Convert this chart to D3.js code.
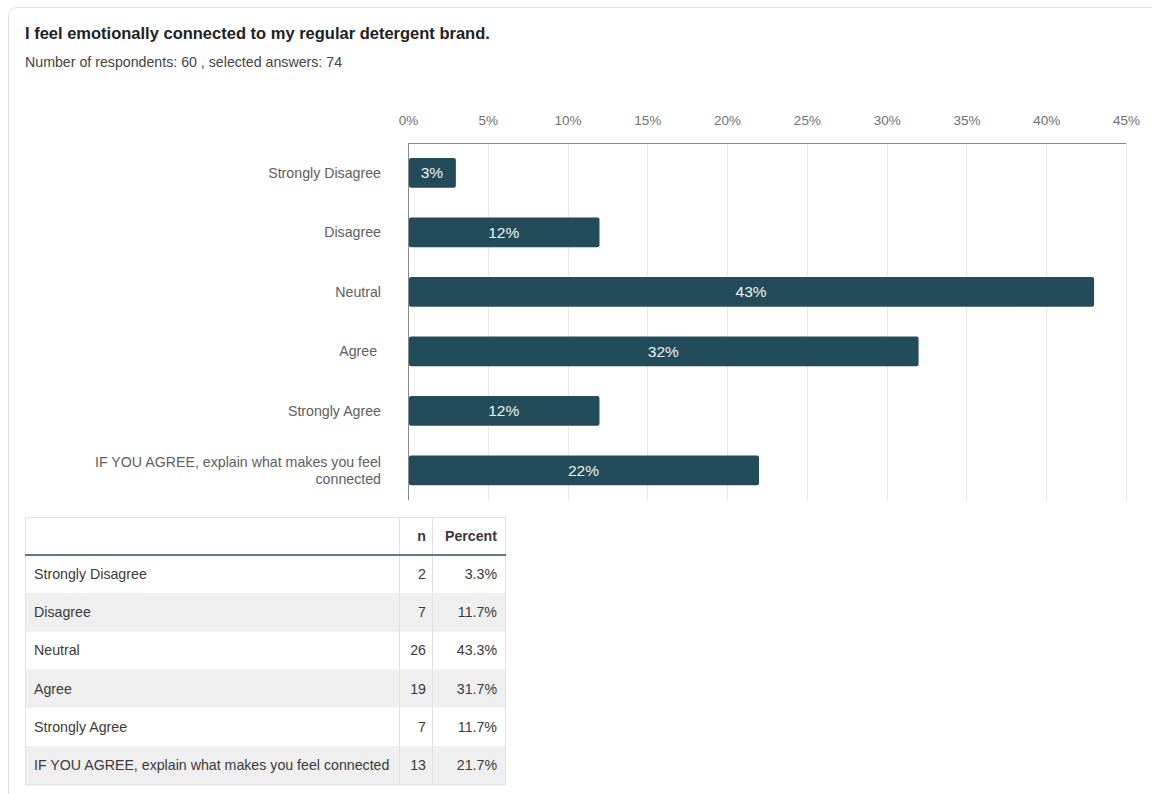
<!DOCTYPE html>
<html>
<meta charset="utf-8">
<style>
body { margin: 0; background: #fff; font-family: "Liberation Sans", Arial, sans-serif; }
.grid line { stroke: #e6e6e6; stroke-width: 1; shape-rendering: crispEdges; }
.grid path { display: none; }
.xaxis path, .xaxis line { display: none; }
.xaxis text { fill: #707070; font-size: 13.5px; font-family: "Liberation Sans", Arial, sans-serif; }
</style>
<body>
<script src="https://d3js.org/d3.v7.min.js"></script>
<script>
// data
var categories = ["Strongly Disagree", "Disagree", "Neutral", "Agree ", "Strongly Agree",
	"IF YOU AGREE, explain what makes you feel connected"];
var barPercent = [3, 12, 43, 32, 12, 22];
var counts = [2, 7, 26, 19, 7, 13];
var tablePercent = ["3.3%", "11.7%", "43.3%", "31.7%", "11.7%", "21.7%"];
var xTicks = [0, 5, 10, 15, 20, 25, 30, 35, 40, 45];

var W = 1152, H = 794;
var svg = d3.select("body").append("svg")
	.attr("width", W)
	.attr("height", H);

// card
svg.append("rect")
	.attr("x", 8.5).attr("y", 7.5)
	.attr("width", W + 20).attr("height", H + 20)
	.attr("rx", 8)
	.attr("fill", "#fff")
	.attr("stroke", "#e2e2e2");

svg.append("text")
	.attr("x", 25).attr("y", 39)
	.attr("font-size", "16.5px")
	.attr("font-weight", "bold")
	.attr("fill", "#222")
	.text("I feel emotionally connected to my regular detergent brand.");

svg.append("text")
	.attr("x", 25).attr("y", 67)
	.attr("font-size", "14.2px")
	.attr("fill", "#444")
	.text("Number of respondents: 60 , selected answers: 74");

// chart
var plotLeft = 408, plotRight = 1126, plotTop = 143, plotBottom = 500;
var x = d3.scaleLinear().domain([0, 45]).range([plotLeft, plotRight]);
var y = d3.scaleBand().domain(categories).range([plotTop, plotBottom]).paddingInner(0.5).paddingOuter(0.25);

svg.append("g")
	.attr("class", "grid")
	.attr("transform", "translate(0," + plotBottom + ")")
	.call(d3.axisBottom(x).tickValues(xTicks.slice(1)).tickSize(-(plotBottom - plotTop)).tickFormat(""));

svg.append("g")
	.attr("class", "xaxis")
	.attr("transform", "translate(0," + (plotTop - 15) + ")")
	.call(d3.axisTop(x).tickValues(xTicks).tickSize(0).tickFormat(function(d) { return d + "%"; }));

svg.append("line")
	.attr("x1", plotLeft).attr("x2", plotRight)
	.attr("y1", plotTop + 0.5).attr("y2", plotTop + 0.5)
	.attr("stroke", "#888");
svg.append("line")
	.attr("x1", plotLeft + 0.5).attr("x2", plotLeft + 0.5)
	.attr("y1", plotTop).attr("y2", plotBottom)
	.attr("stroke", "#888");

svg.selectAll(".bar")
	.data(barPercent)
	.enter().append("rect")
	.attr("class", "bar")
	.attr("x", plotLeft + 1)
	.attr("y", function(d, i) { return y(categories[i]); })
	.attr("width", function(d) { return x(d) - plotLeft - 1; })
	.attr("height", y.bandwidth())
	.attr("rx", 2)
	.attr("fill", "#234c5a");

svg.selectAll(".barlabel")
	.data(barPercent)
	.enter().append("text")
	.attr("class", "barlabel")
	.attr("x", function(d) { return (plotLeft + x(d)) / 2; })
	.attr("y", function(d, i) { return y(categories[i]) + y.bandwidth() / 2; })
	.attr("dy", "0.35em")
	.attr("text-anchor", "middle")
	.attr("font-size", "15.5px")
	.attr("fill", "#f2f2f2")
	.text(function(d) { return d + "%"; });

// category labels, long one wrapped in two lines
svg.selectAll(".ylabel")
	.data(categories)
	.enter().append("text")
	.attr("class", "ylabel")
	.attr("text-anchor", "end")
	.attr("font-size", "14.2px")
	.attr("fill", "#606060")
	.attr("xml:space", "preserve")
	.each(function(d) {
		var t = d3.select(this);
		var cy = y(d) + y.bandwidth() / 2;
		var lines = d.length > 40 ? ["IF YOU AGREE, explain what makes you feel", "connected"] : [d];
		lines.forEach(function(l, k) {
			t.append("tspan")
				.attr("x", 381)
				.attr("y", cy + (k - (lines.length - 1) / 2) * 17)
				.attr("dy", "0.35em")
				.text(l);
		});
	});

// table
var tx = 25, colN = 399, colP = 432, tRight = 506;
var headTop = 517, headBottom = 555, rowH = 38.2;
var tbl = svg.append("g").attr("font-size", "14.2px").attr("fill", "#3a3a3a");

categories.forEach(function(c, i) {
	var ry = headBottom + i * rowH;
	tbl.append("rect")
		.attr("x", tx).attr("y", ry)
		.attr("width", tRight - tx).attr("height", rowH)
		.attr("fill", i % 2 ? "#efefef" : "#fff");
	tbl.append("line")
		.attr("x1", tx).attr("x2", tRight)
		.attr("y1", Math.round(ry + rowH) + 0.5).attr("y2", Math.round(ry + rowH) + 0.5)
		.attr("stroke", "#e2e2e2");
	tbl.append("text").attr("x", tx + 9).attr("y", ry + rowH / 2).attr("dy", "0.35em")
		.text(c.trim());
	tbl.append("text").attr("x", colP - 6).attr("y", ry + rowH / 2).attr("dy", "0.35em")
		.attr("text-anchor", "end").text(counts[i]);
	tbl.append("text").attr("x", tRight - 9).attr("y", ry + rowH / 2).attr("dy", "0.35em")
		.attr("text-anchor", "end").text(tablePercent[i]);
});

var tBottom = headBottom + categories.length * rowH;
tbl.append("rect")
	.attr("x", tx + 0.5).attr("y", headTop + 0.5)
	.attr("width", tRight - tx - 1).attr("height", tBottom - headTop)
	.attr("fill", "none").attr("stroke", "#e2e2e2");
[colN, colP].forEach(function(cx) {
	tbl.append("line")
		.attr("x1", cx + 0.5).attr("x2", cx + 0.5)
		.attr("y1", headTop).attr("y2", tBottom)
		.attr("stroke", "#e2e2e2");
});
tbl.append("line")
	.attr("x1", tx).attr("x2", tRight)
	.attr("y1", headBottom).attr("y2", headBottom)
	.attr("stroke", "#5b7b89").attr("stroke-width", 2);
tbl.append("text").attr("x", colP - 6).attr("y", (headTop + headBottom) / 2).attr("dy", "0.35em")
	.attr("text-anchor", "end").attr("font-weight", "bold").text("n");
tbl.append("text").attr("x", tRight - 9).attr("y", (headTop + headBottom) / 2).attr("dy", "0.35em")
	.attr("text-anchor", "end").attr("font-weight", "bold").text("Percent");
</script>
</body>
</html>
